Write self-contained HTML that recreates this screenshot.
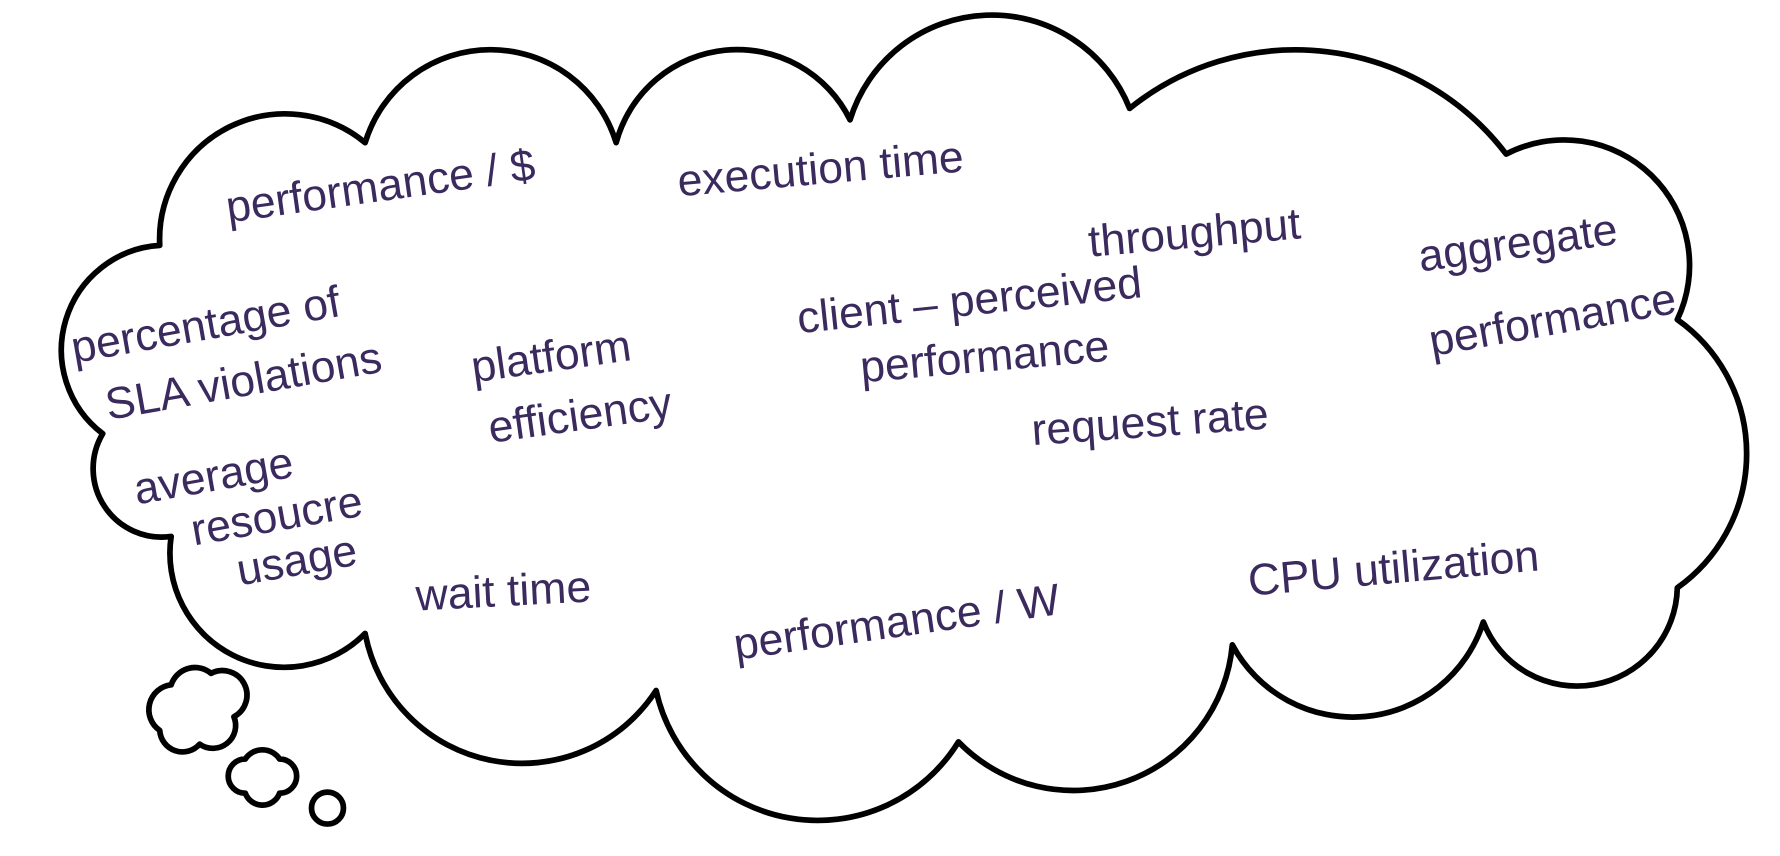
<!DOCTYPE html>
<html><head><meta charset="utf-8"><style>
html,body{margin:0;padding:0;background:#fff;}
svg{display:block}
text{font-family:"Liberation Sans",sans-serif;fill:#3b2a5e;font-size:39px;}
</style></head><body>
<svg width="1780" height="856" viewBox="0 0 1560 750" preserveAspectRatio="none">
<rect width="1560" height="750" fill="#fff"/>
<g fill="none" stroke="#000" stroke-width="5" stroke-linejoin="round">
<path d="M140,215 A110,110 0 0 1 320,125 A115,115 0 0 1 540,125 A110,110 0 0 1 745,105 A130,130 0 0 1 990,95 A232,232 0 0 1 1320,135 A110,110 0 0 1 1470,280 A144,144 0 0 1 1470,515 A88,88 0 0 1 1300,545 A120,120 0 0 1 1080,565 A140,140 0 0 1 840,650 A145,145 0 0 1 575,605 A140,140 0 0 1 320,555 A100,100 0 0 1 150,470 A60,60 0 0 1 90,380 A92,92 0 0 1 140,215 Z"/>
<path d="M150,600 A22,22 0 0 1 185,590 A20,20 0 0 1 205,628 A20,20 0 0 1 175,652 A20,20 0 0 1 140,640 A22,22 0 0 1 150,600 Z"/>
<path d="M215,665 A18,18 0 0 1 245,665 A15,15 0 0 1 245,695 A16,16 0 0 1 215,695 A15,15 0 0 1 215,665 Z"/>
<circle cx="287" cy="708" r="14"/>
</g>
<text transform="translate(200,195) rotate(-8)">performance / $</text>
<text transform="translate(595,172) rotate(-5)">execution time</text>
<text transform="translate(955,225) rotate(-5)">throughput</text>
<text transform="translate(1245,238) rotate(-8)">aggregate</text>
<text transform="translate(1255,312) rotate(-10)">performance</text>
<text transform="translate(65,318) rotate(-10)">percentage of</text>
<text transform="translate(95,368) rotate(-10)">SLA violations</text>
<text transform="translate(415,335) rotate(-8)">platform</text>
<text transform="translate(430,388) rotate(-8)">efficiency</text>
<text transform="translate(700,292) rotate(-6)">client – perceived</text>
<text transform="translate(755,335) rotate(-5)">performance</text>
<text transform="translate(905,390) rotate(-4)">request rate</text>
<text transform="translate(120,442) rotate(-10)">average</text>
<text transform="translate(170,478) rotate(-10)">resoucre</text>
<text transform="translate(210,513) rotate(-10)">usage</text>
<text transform="translate(365,535) rotate(-3)">wait time</text>
<text transform="translate(645,578) rotate(-8)">performance / W</text>
<text transform="translate(1095,522) rotate(-5)">CPU utilization</text>
</svg>
</body></html>
